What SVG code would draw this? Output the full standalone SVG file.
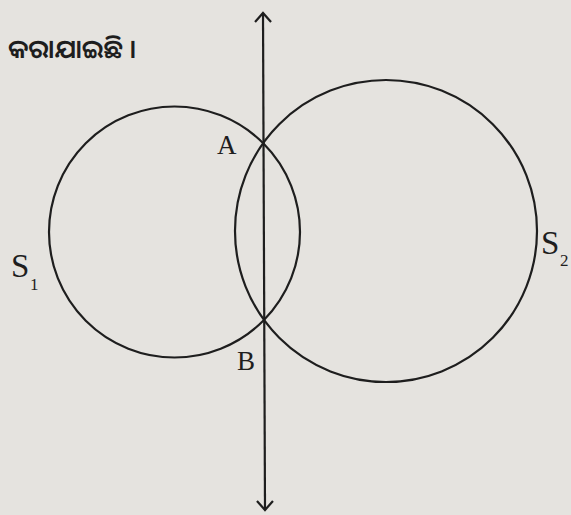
<svg xmlns="http://www.w3.org/2000/svg" width="571" height="515" viewBox="0 0 571 515">
<style>
.ln{fill:none;stroke:#1e1e1e;stroke-width:2.2}
.lb{font-family:"Liberation Serif","Times New Roman",serif;fill:#1e1e1e;font-size:27px}
.ls{font-family:"Liberation Serif","Times New Roman",serif;fill:#1e1e1e;font-size:33px}
.sb{font-family:"Liberation Serif","Times New Roman",serif;fill:#1e1e1e;font-size:17px}
.od{font-family:"Noto Sans Oriya","Noto Sans","Lohit Odia",sans-serif;fill:#1e1e1e;font-size:26px;font-weight:600}
</style>
<defs>
<marker id="arr" viewBox="0 0 20 20" refX="10" refY="10" markerWidth="20" markerHeight="20" markerUnits="userSpaceOnUse" orient="auto-start-reverse">
<path d="M1,2 L10,10 L1,18" fill="none" stroke="#1e1e1e" stroke-width="2.2"/>
</marker>
</defs>
<rect width="571" height="515" fill="#e5e3df"/>
<text class="od" x="8" y="58">କରାଯାଇଛି ।</text>
<g id="connectors">
<line id="axis" class="ln" x1="263" y1="13" x2="265" y2="510" marker-start="url(#arr)" marker-end="url(#arr)"/>
</g>
<g id="S1">
<circle class="ln" cx="174.5" cy="232" r="125.5"/>
<text class="ls" x="11" y="277">S</text><text class="sb" x="30" y="290">1</text>
</g>
<g id="S2">
<circle class="ln" cx="386" cy="231" r="151"/>
<text class="ls" x="541" y="254">S</text><text class="sb" x="560" y="266">2</text>
</g>
<g id="A"><text class="lb" x="217" y="154">A</text></g>
<g id="B"><text class="lb" x="237" y="370">B</text></g>
</svg>
